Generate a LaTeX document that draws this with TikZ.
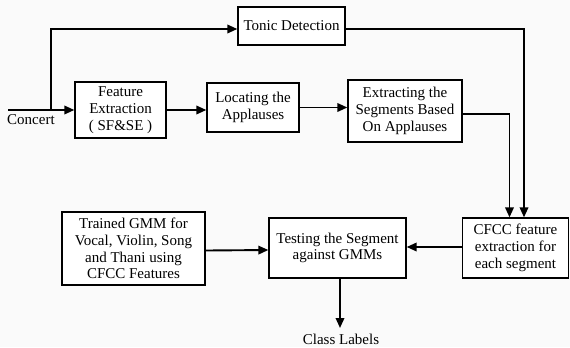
\documentclass[tikz,border=0pt]{standalone}
\usepackage{fontspec}
\setmainfont{Liberation Serif}
\usetikzlibrary{arrows.meta}
\definecolor{pagebg}{RGB}{250,250,250}
\tikzset{
  blk/.style={draw=black, line width=1.3bp, fill=white, align=center,
    inner sep=0pt, font=\fontsize{15bp}{16.7bp}\selectfont},
  flow/.style={line width=1.9bp, -{Triangle[length=10bp,width=8.5bp]}},
  wire/.style={line width=1.9bp},
  lbl/.style={inner sep=0pt, font=\fontsize{15bp}{16.7bp}\selectfont}
}
\begin{document}
\begin{tikzpicture}[x=1bp,y=-1bp]
  \fill[pagebg] (0,0) rectangle (570,347);
  \useasboundingbox (0,0) rectangle (570,347);

  % processing blocks
  \node[blk, minimum width=107bp, minimum height=38bp] (tonic) at (291.5,26) {Tonic Detection};
  \node[blk, minimum width=91bp, minimum height=56bp] (feat) at (120.5,110) {Feature\\Extraction\\( SF\&SE )};
  \node[blk, minimum width=92bp, minimum height=49bp] (loc) at (253,107.5) {Locating the\\Applauses};
  \node[blk, minimum width=114bp, minimum height=62bp] (seg) at (405,111) {Extracting the\\Segments Based\\On Applauses};
  \node[blk, minimum width=143bp, minimum height=73bp] (gmm) at (133.5,248.5) {Trained GMM for\\Vocal, Violin, Song\\and Thani using\\CFCC Features};
  \node[blk, minimum width=137bp, minimum height=60bp] (test) at (337.5,248) {Testing the Segment\\against GMMs};
  \node[blk, minimum width=106bp, minimum height=60bp] (cfcc) at (515.5,248) {CFCC feature\\extraction for\\each segment};

  % input and output labels
  \coordinate (in) at (8,110);
  \coordinate (split) at (51,110);
  \node[lbl, anchor=west] (concert) at (7,120) {Concert};
  \node[lbl] (cls) at (341,339) {Class Labels};
  \coordinate (clsTop) at (340,328);

  % connectors
  \draw[flow] (in) -- (feat.west);
  \draw[flow] (split) |- ([yshift=-3bp]tonic.west);
  \draw[flow] (feat.east) -- (loc.west |- feat.east);
  \draw[flow] (loc.east) -- (seg.west |- loc.east);
  \draw[flow] ([yshift=-3bp]tonic.east) -| ([xshift=8.5bp]cfcc.north);
  \draw[flow] ([yshift=-3bp]seg.east) -| ([xshift=-6bp]cfcc.north);
  \draw[flow] ([yshift=1bp]cfcc.west) -- ([yshift=1bp]test.east);
  \draw[flow] ([yshift=-2bp]gmm.east) -- ([yshift=-2bp]test.west);
  \draw[flow] ([xshift=2.5bp]test.south) -- (clsTop);
\end{tikzpicture}
\end{document}
